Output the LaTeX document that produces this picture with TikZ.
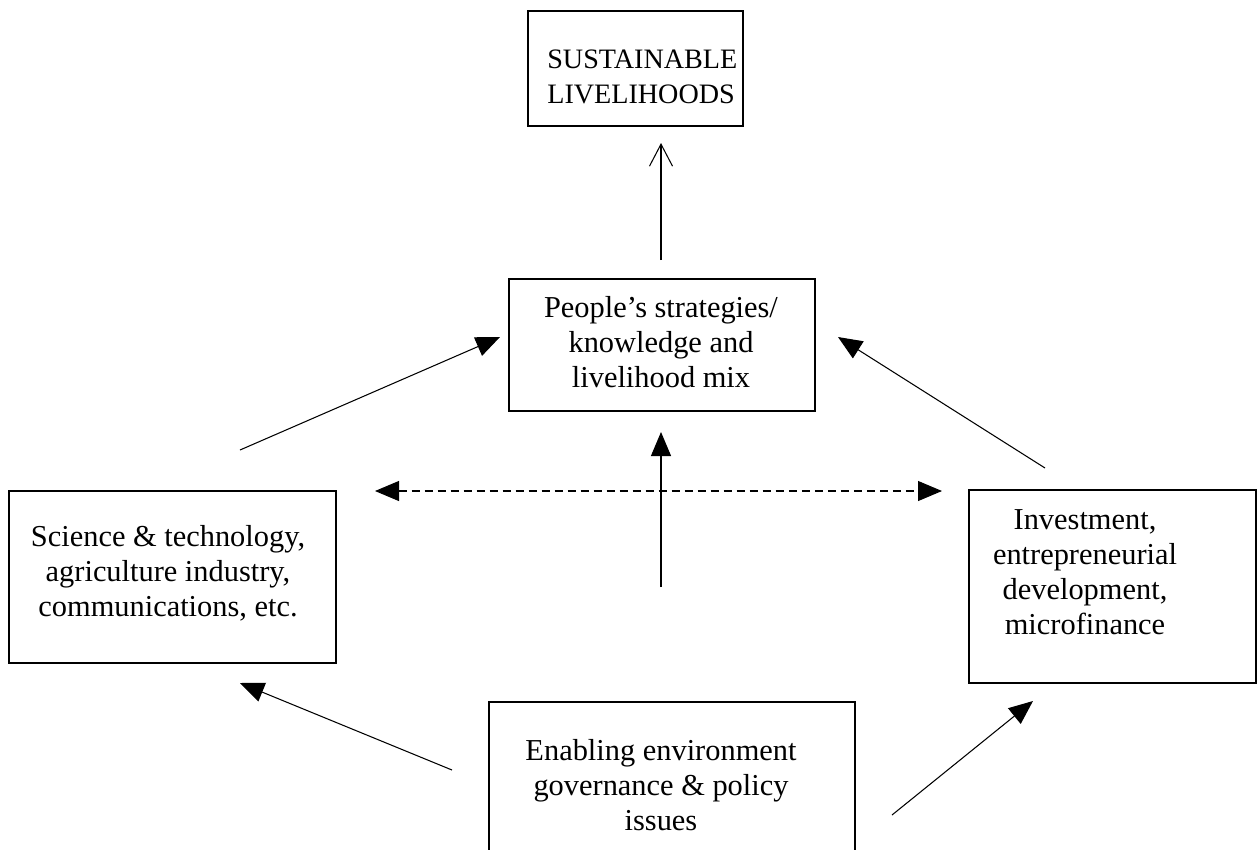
\documentclass[tikz,border=0pt]{standalone}
\usepackage{fontspec}
\setmainfont{Liberation Serif}
\usetikzlibrary{arrows.meta}
\begin{document}
\begin{tikzpicture}[x=0.2mm,y=-0.2mm,
  box/.style={draw, line width=0.9pt, inner sep=0pt, anchor=north west},
  txt/.style={align=center, font=\fontsize{17.3}{20}\selectfont, inner sep=0pt},
  conn/.style={line width=0.6pt},
  tri/.style={-{Triangle[length=4.8mm,width=4mm]}},
  barb/.style={-{Straight Barb[length=4.4mm,width=4.6mm]}},
 ]
\useasboundingbox (0,0) rectangle (1257,849);
\clip (0,0) rectangle (1257,849);
% boxes
\node[box, minimum width=43mm, minimum height=23mm] (topbox) at (527,10) {};
\node[box, minimum width=61.2mm, minimum height=26.4mm] (peoplebox) at (508,278) {};
\node[box, minimum width=65.4mm, minimum height=34.4mm] (leftbox) at (8,490) {};
\node[box, minimum width=57.4mm, minimum height=38.6mm] (rightbox) at (968,489) {};
\node[box, minimum width=73.2mm, minimum height=40mm] (bottombox) at (488,701) {};
% texts
\node[txt, align=left, anchor=west, font=\fontsize{16}{20}\selectfont] (toptxt) at (547,77) {SUSTAINABLE\\LIVELIHOODS};
\node[txt] (peopletxt) at (661,342) {People’s strategies/\\knowledge and\\livelihood mix};
\node[txt] (lefttxt) at (168,573) {Science \& technology,\\agriculture industry,\\communications, etc.};
\node[txt] (righttxt) at (1085,572) {Investment,\\entrepreneurial\\development,\\microfinance};
\node[txt] (bottomtxt) at (661,785) {Enabling environment\\governance \& policy\\issues};
% connector end points
\coordinate (a1) at (661,260); \coordinate (a2) at (661,143);
\coordinate (b1) at (240,450); \coordinate (b2) at (500,337);
\coordinate (c1) at (1045,468); \coordinate (c2) at (838,337);
\coordinate (d1) at (661,587); \coordinate (d2) at (661,432);
\coordinate (e1) at (375,491); \coordinate (e2) at (942,491);
\coordinate (f1) at (452,770); \coordinate (f2) at (240,683);
\coordinate (g1) at (892,815); \coordinate (g2) at (1033,701);
% connectors
\draw[conn, barb] (a1) -- (a2);
\draw[conn, tri] (b1) -- (b2);
\draw[conn, tri] (c1) -- (c2);
\draw[conn, tri] (d1) -- (d2);
\draw[conn, dashed, dash pattern=on 1.6mm off 1mm, {Triangle[length=4.8mm,width=4mm]}-{Triangle[length=4.8mm,width=4mm]}] (e1) -- (e2);
\draw[conn, tri] (f1) -- (f2);
\draw[conn, tri] (g1) -- (g2);
\end{tikzpicture}
\end{document}
